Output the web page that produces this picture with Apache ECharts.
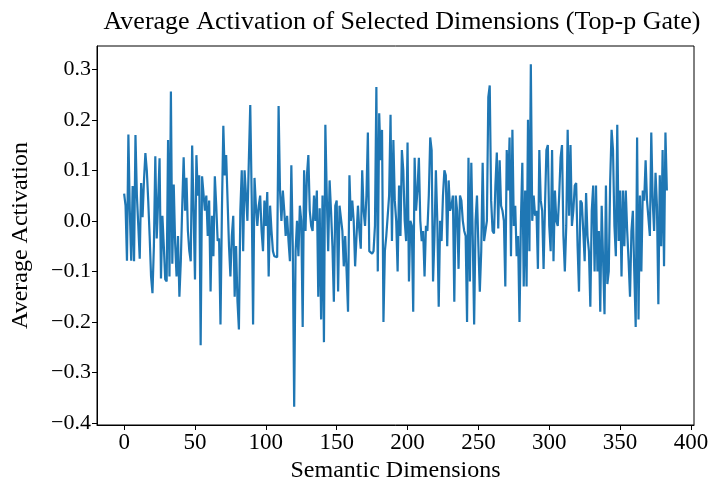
<!DOCTYPE html>
<html>
<head>
<meta charset="utf-8">
<script src="https://cdn.jsdelivr.net/npm/echarts@6/dist/echarts.min.js"></script>
<style>
  html, body { margin: 0; padding: 0; background: #fff; }
  #chart { width: 708px; height: 481px; }
</style>
</head>
<body>
<div id="chart"></div>
<script>
  // values per semantic dimension
  var activation = [
    0.054, 0.03, -0.079, 0.171, 0.02, -0.079, 0.069, -0.08, 0.17, 0.05,
    -0.01, -0.075, 0.075, 0.007, 0.08, 0.134, 0.10, 0.04, -0.03, -0.11,
    -0.143, -0.05, 0.128, -0.035, 0.04, 0.124, -0.114, 0.01, -0.05, -0.116,
    -0.12, 0.16, -0.11, 0.256, -0.085, 0.072, -0.045, -0.11, -0.03, -0.15,
    -0.08, 0.03, 0.126, 0.02, 0.085, -0.02, -0.06, -0.08, 0.149, 0.02,
    -0.116, 0.13, 0.05, 0.09, -0.246, 0.088, 0.087, 0.02, 0.05, -0.03,
    0.04, -0.14, 0.01, -0.07, 0.088, 0.03, -0.04, -0.035, -0.205, 0.02,
    0.188, 0.09, 0.13, 0.13, -0.05, -0.11, -0.03, 0.01, -0.15, -0.05,
    -0.16, -0.215, 0.02, 0.10, -0.06, 0.10, 0.05, 0.0, 0.12, 0.229,
    0.05, -0.205, 0.085, 0.03, -0.01, 0.03, 0.05, -0.02, -0.06, 0.04,
    -0.01, 0.057, -0.11, 0.03, -0.02, -0.06, -0.07, -0.07, -0.072, 0.227,
    0.06, 0.0, 0.06, 0.02, -0.03, 0.01, -0.04, -0.08, 0.11, -0.05,
    -0.368, -0.06, 0.0, -0.07, 0.03, 0.0, -0.21, 0.10, -0.02, 0.09,
    0.13, 0.02, -0.01, -0.02, 0.05, 0.0, 0.06, -0.15, 0.025, -0.195,
    0.05, -0.24, 0.19, 0.05, -0.06, 0.08, 0.02, -0.05, -0.16, 0.03,
    0.04, -0.14, 0.03, 0.03, -0.02, -0.09, -0.03, -0.10, -0.18, 0.09,
    0.0, 0.04, 0.0, -0.09, -0.09, 0.03, -0.02, -0.055, 0.10, 0.02,
    -0.01, 0.05, 0.175, -0.06, -0.06, -0.065, -0.06, -0.01, 0.265, -0.10,
    0.213, 0.12, 0.18, -0.2, -0.06, -0.03, -0.03, 0.05, 0.21, -0.04,
    0.16, 0.04, 0.0, -0.10, 0.07, -0.03, 0.14, 0.10, 0.0, -0.04,
    0.155, -0.12, 0.0, -0.01, -0.18, 0.125, 0.02, 0.06, 0.125, 0.0,
    -0.04, -0.02, -0.11, -0.01, -0.02, 0.05, 0.165, 0.14, -0.12, -0.03,
    0.10, 0.0, -0.17, 0.0, -0.04, 0.05, 0.10, 0.09, -0.05, 0.08,
    0.02, 0.03, 0.05, -0.16, 0.05, 0.02, -0.095, 0.05, 0.04, 0.0,
    -0.02, -0.03, -0.2, 0.125, -0.12, 0.115, -0.03, -0.205, 0.0, 0.05,
    -0.05, -0.14, -0.06, 0.115, -0.04, -0.02, 0.0, 0.245, 0.268, 0.04,
    -0.02, -0.025, 0.07, 0.135, -0.015, 0.12, 0.03, 0.02, 0.0, -0.13,
    0.14, 0.06, 0.165, -0.07, 0.18, -0.01, 0.03, -0.07, -0.03, -0.2,
    0.0, 0.115, -0.13, 0.06, -0.13, 0.20, -0.06, 0.31, 0.0, 0.05,
    0.01, 0.02, -0.095, 0.14, 0.04, 0.02, -0.095, 0.03, 0.14, 0.15,
    -0.01, -0.06, 0.14, -0.08, 0.06, 0.0, -0.01, 0.05, 0.125, 0.15,
    -0.03, -0.10, -0.01, 0.18, 0.01, 0.15, -0.01, 0.02, 0.07, 0.075,
    -0.05, -0.14, 0.04, 0.035, -0.02, -0.08, 0.055, -0.03, -0.06, -0.17,
    0.02, 0.07, -0.10, 0.07, -0.10, -0.02, -0.18, 0.03, 0.03, -0.185,
    0.07, -0.125, -0.10, 0.08, 0.18, 0.14, -0.01, -0.07, 0.19, -0.04,
    0.06, -0.11, 0.06, -0.05, 0.06, -0.02, -0.08, -0.15, -0.02, 0.02,
    -0.10, -0.21, 0.165, -0.195, 0.05, -0.10, 0.06, 0.04, 0.12, 0.04,
    0.04, -0.03, 0.175, 0.04, -0.02, 0.095, 0.03, -0.165, 0.09, -0.05,
    0.14, -0.09, 0.175, 0.06
  ];
  var xTicks = [0, 50, 100, 150, 200, 250, 300, 350, 400];
  var yTicks = [-0.4, -0.3, -0.2, -0.1, 0.0, 0.1, 0.2, 0.3];

  var points = activation.map(function(v, i) { return [i, v]; });
  var font = 'Liberation Serif';

  var chart = echarts.init(document.getElementById('chart'));
  chart.setOption({
    animation: false,
    title: {
      text: 'Average Activation of Selected Dimensions (Top-p Gate)',
      left: 397,
      textAlign: 'center',
      top: 4,
      textStyle: { fontFamily: font, fontSize: 26, fontWeight: 'normal', color: '#000' }
    },
    grid: {
      left: 97, right: 14, top: 46, bottom: 56,
      containLabel: false, outerBoundsMode: 'none',
      show: true, borderColor: '#000', borderWidth: 1
    },
    xAxis: {
      type: 'value',
      min: -19.15,
      max: 402.15,
      name: 'Semantic Dimensions',
      nameLocation: 'middle',
      nameGap: 33,
      nameTextStyle: { fontFamily: font, fontSize: 24, color: '#000' },
      splitLine: { show: false },
      axisLine: { onZero: false, lineStyle: { color: '#000' } },
      axisTick: { length: 5, customValues: xTicks, lineStyle: { color: '#000' } },
      axisLabel: {
        customValues: xTicks, margin: 6,
        fontFamily: font, fontSize: 23, color: '#000'
      }
    },
    yAxis: {
      type: 'value',
      min: -0.404,
      max: 0.346,
      name: 'Average Activation',
      nameLocation: 'middle',
      nameGap: 64,
      nameTextStyle: { fontFamily: font, fontSize: 24, color: '#000' },
      splitLine: { show: false },
      axisLine: { show: true, onZero: false, lineStyle: { color: '#000' } },
      axisTick: { show: true, length: 5, customValues: yTicks, lineStyle: { color: '#000' } },
      axisLabel: {
        customValues: yTicks, margin: 6,
        fontFamily: font, fontSize: 22, color: '#000',
        formatter: function(v) { return v.toFixed(1).replace('-', '\u2212'); }
      }
    },
    series: [{
      type: 'line',
      data: points,
      showSymbol: false,
      lineStyle: { color: '#1f77b4', width: 2.2 }
    }]
  });
</script>
</body>
</html>
